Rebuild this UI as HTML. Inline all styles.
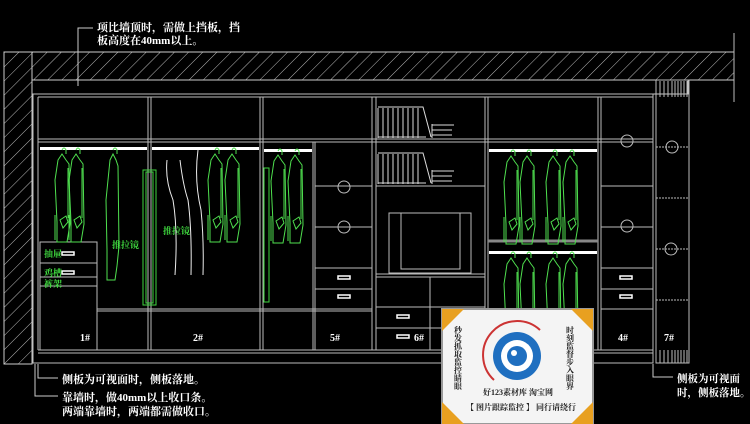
<!DOCTYPE html>
<html><head><meta charset="utf-8"><style>
html,body{margin:0;padding:0;background:#000;}
svg{display:block}
text{font-family:"Liberation Serif","Noto Serif CJK SC","Noto Sans CJK SC",serif;font-weight:bold;fill:#fff;}
</style></head><body>
<svg width="750" height="424" viewBox="0 0 750 424" xmlns="http://www.w3.org/2000/svg">
<defs>
<pattern id="h" width="10" height="10" patternUnits="userSpaceOnUse" patternTransform="rotate(45)">
<rect width="10" height="10" fill="#000"/><line x1="0" y1="0" x2="0" y2="10" stroke="#bbb" stroke-width="1"/>
</pattern>
<g id="cl" fill="none" stroke="#4fe04f" stroke-width="1">
<path d="M0 0 q2 -4 4 0 l0 4 M-4 10 l4 -6 l4 6 l3 4 l1 60 l-3 18 l-10 0 l0 -20 l-2 -42 z M-2 70 l6 -4 l2 6 l-5 6 z M-7 90 l0 -25 M6 18 l0 50"/>
</g>
<g id="cl2" fill="none" stroke="#4fe04f" stroke-width="1">
<path d="M0 0 q2 -4 4 0 l0 4 M-3 10 l3 -6 l3 6 l2 6 l1 80 l-2 20 l-2 14 l-8 0 l0 -30 l-1 -50 z"/>
</g>
</defs>
<rect width="750" height="424" fill="#000"/>
<rect x="4" y="52" width="730" height="28" fill="url(#h)" stroke="#ccc"/>
<rect x="4" y="52" width="28" height="312" fill="url(#h)" stroke="#ccc"/>
<rect x="32" y="80" width="656" height="14" fill="#000" stroke="#ccc"/>
<line x1="734" y1="33" x2="734" y2="102" stroke="#bbb"/>
<g stroke="#bbb" fill="none" stroke-width="1">
<rect x="33" y="94" width="620" height="269"/>
<line x1="38" y1="97" x2="38" y2="350"/>
<line x1="38" y1="97" x2="653" y2="97"/>
<line x1="38" y1="350" x2="653" y2="350"/>
<line x1="38" y1="353" x2="653" y2="353"/>
<line x1="148" y1="97" x2="148" y2="350"/><line x1="151" y1="97" x2="151" y2="350"/>
<line x1="260" y1="97" x2="260" y2="350"/><line x1="263" y1="97" x2="263" y2="350"/>
<line x1="372" y1="97" x2="372" y2="350"/><line x1="376" y1="97" x2="376" y2="350"/>
<line x1="485" y1="97" x2="485" y2="350"/><line x1="488" y1="97" x2="488" y2="350"/>
<line x1="598" y1="97" x2="598" y2="350"/><line x1="601" y1="97" x2="601" y2="350"/>
<line x1="653" y1="94" x2="653" y2="363"/><line x1="656" y1="97" x2="656" y2="350"/>
<line x1="313" y1="142" x2="313" y2="350"/><line x1="315" y1="142" x2="315" y2="350"/>
<line x1="38" y1="139" x2="653" y2="139"/><line x1="38" y1="142" x2="653" y2="142"/>
<line x1="376" y1="186" x2="485" y2="186"/><line x1="315" y1="186" x2="372" y2="186"/>
<line x1="601" y1="186" x2="653" y2="186"/>
<line x1="315" y1="227" x2="372" y2="227"/><line x1="601" y1="227" x2="653" y2="227"/>
<line x1="315" y1="268" x2="372" y2="268"/><line x1="601" y1="268" x2="653" y2="268"/>
<line x1="315" y1="289" x2="372" y2="289"/><line x1="601" y1="289" x2="653" y2="289"/>
<line x1="97" y1="309" x2="372" y2="309"/><line x1="97" y1="311" x2="372" y2="311"/>
<line x1="601" y1="309" x2="653" y2="309"/>
<circle cx="344" cy="187" r="6"/><circle cx="344" cy="227" r="6"/>
<circle cx="627" cy="141" r="6"/><circle cx="627" cy="226" r="6"/>
<rect x="40" y="242" width="57" height="108"/>
<line x1="40" y1="263" x2="97" y2="263"/><line x1="40" y1="277" x2="97" y2="277"/><line x1="40" y1="286" x2="97" y2="286"/>
<rect x="389" y="213" width="82" height="60"/><rect x="401" y="213" width="59" height="56"/>
<line x1="376" y1="274" x2="485" y2="274"/><line x1="376" y1="277" x2="485" y2="277"/>
<line x1="430" y1="277" x2="430" y2="350"/>
<line x1="376" y1="307" x2="485" y2="307"/><line x1="376" y1="328" x2="485" y2="328"/>
<line x1="488" y1="241" x2="598" y2="241" stroke="#888" stroke-width="3"/>
<rect x="656" y="80" width="33" height="283"/>
<line x1="656" y1="147" x2="689" y2="147" stroke-dasharray="2 1"/>
<line x1="656" y1="198" x2="689" y2="198" stroke-dasharray="2 1"/>
<line x1="656" y1="249" x2="689" y2="249" stroke-dasharray="2 1"/>
<line x1="656" y1="300" x2="689" y2="300" stroke-dasharray="2 1"/>
<circle cx="672" cy="147" r="6"/><circle cx="671" cy="249" r="6"/>
<path d="M660 81v16M664 81v16M668 81v16M672 81v16M675 81v16M678 81v16M681 81v16M684 81v16M687 81v16"/>
<path d="M660 350v13M664 350v13M668 350v13M672 350v13M675 350v13M678 350v13M681 350v13M684 350v13M687 350v13"/>
</g>
<g fill="#fff">
<rect x="40" y="147" width="107" height="3"/><rect x="152" y="147" width="107" height="3"/>
<rect x="264" y="149" width="48" height="3"/><rect x="489" y="149" width="108" height="3"/>
<rect x="489" y="251" width="108" height="3"/>
</g>
<g fill="none" stroke="#fff" stroke-width="1.5">
<rect x="62" y="252" width="12" height="3"/><rect x="62" y="271" width="12" height="3"/>
<rect x="338" y="276" width="12" height="3"/><rect x="338" y="295" width="12" height="3"/>
<rect x="620" y="276" width="12" height="3"/><rect x="620" y="295" width="12" height="3"/>
<rect x="397" y="315" width="12" height="3"/><rect x="397" y="335" width="12" height="3"/>
</g>
<g stroke="#ddd" fill="none">
<path d="M378 107h45l8 30M378 108v30M383 108v30M388 108v30M393 108v30M398 108v30M403 108v30M408 108v30M413 108v30M418 108v30M378 137h48M432 125h22M432 130h20M432 135h20M432 124v14"/>
<path d="M378 153h45l8 30M378 154v30M383 154v30M388 154v30M393 154v30M398 154v30M403 154v30M408 154v30M413 154v30M418 154v30M378 183h48M432 171h22M432 176h20M432 181h20M432 170v14"/>
</g>
<g stroke="#3fd83f" fill="none">
<rect x="143" y="170" width="13" height="135"/><rect x="146" y="172" width="7" height="131"/>
<rect x="264" y="168" width="5" height="134"/>
</g>
<g stroke="#eee" fill="none">
<path d="M167 160 q-2 20 6 40 q5 30 2 75M180 160 q3 25 8 40 q4 30 3 75M198 150 q-4 30 3 60 q3 30 2 65"/>
</g>
<use href="#cl" x="62" y="150"/><use href="#cl" x="76" y="150"/><use href="#cl2" x="113" y="150"/>
<use href="#cl" x="215" y="150"/><use href="#cl" x="232" y="150"/>
<use href="#cl" x="278" y="151"/><use href="#cl" x="295" y="151"/>
<use href="#cl" x="511" y="152"/><use href="#cl" x="527" y="152"/><use href="#cl" x="553" y="152"/><use href="#cl" x="570" y="152"/>
<use href="#cl" x="511" y="254"/><use href="#cl" x="527" y="254"/><use href="#cl" x="553" y="254"/><use href="#cl" x="570" y="254"/>
<g style="font-size:9px">
<text x="44" y="257" style="fill:#3fd83f">抽屉</text>
<text x="44" y="276" style="fill:#3fd83f">鸡槽</text>
<text x="44" y="287" style="fill:#3fd83f">裤架</text>
<text x="112" y="248" style="fill:#3fd83f">推拉镜</text>
<text x="163" y="234" style="fill:#3fd83f">推拉镜</text>
</g>
<g style="font-size:10px">
<text x="80" y="341">1#</text><text x="193" y="341">2#</text><text x="330" y="341">5#</text>
<text x="414" y="341">6#</text><text x="618" y="341">4#</text><text x="664" y="341">7#</text>
</g>
<g stroke="#ccc" fill="none">
<path d="M93 28H78V86"/><path d="M38 364V378H58"/><path d="M35 364V396H58"/><path d="M653 364V377H673"/>
</g>
<g style="font-size:11px">
<text x="97" y="31">项比墙顶时，需做上挡板，挡</text>
<text x="97" y="44">板高度在40mm以上。</text>
<text x="62" y="383">侧板为可视面时，侧板落地。</text>
<text x="62" y="401">靠墙时，做40mm以上收口条。</text>
<text x="62" y="415">两端靠墙时，两端都需做收口。</text>
</g>
<g style="font-size:10.5px">
<text x="677" y="382">侧板为可视面</text>
<text x="677" y="396">时，侧板落地。</text>
</g>
<rect x="442" y="309" width="151" height="115" fill="#f4f4f4" stroke="#999" stroke-width="2"/>
<polygon points="442,309 464,309 442,331" fill="#e8a020"/>
<polygon points="593,309 571,309 593,331" fill="#e8a020"/>
<polygon points="442,424 464,424 442,402" fill="#e8a020"/>
<polygon points="593,424 571,424 593,402" fill="#e8a020"/>
<path d="M494 380 A28 28 0 0 1 540 330" stroke="#c33" stroke-width="2" fill="none"/>
<circle cx="517" cy="356" r="24" fill="#1f6fc0"/>
<circle cx="517" cy="356" r="16" fill="#fff"/>
<circle cx="517" cy="356" r="10" fill="#1f6fc0"/>
<circle cx="514" cy="353" r="3" fill="#fff"/>
<g style="font-size:8px;fill:#222">
<text x="458" y="326" style="fill:#222;writing-mode:tb">秒发抓取监控睛眼</text>
<text x="570" y="326" style="fill:#222;writing-mode:tb">时刻监督步入眼界</text>
<text x="483" y="395" style="fill:#222">好123素材库 淘宝网</text>
<text x="466" y="410" style="fill:#222">【 图片跟踪监控 】 同行请绕行</text>
</g>
</svg>
</body></html>
